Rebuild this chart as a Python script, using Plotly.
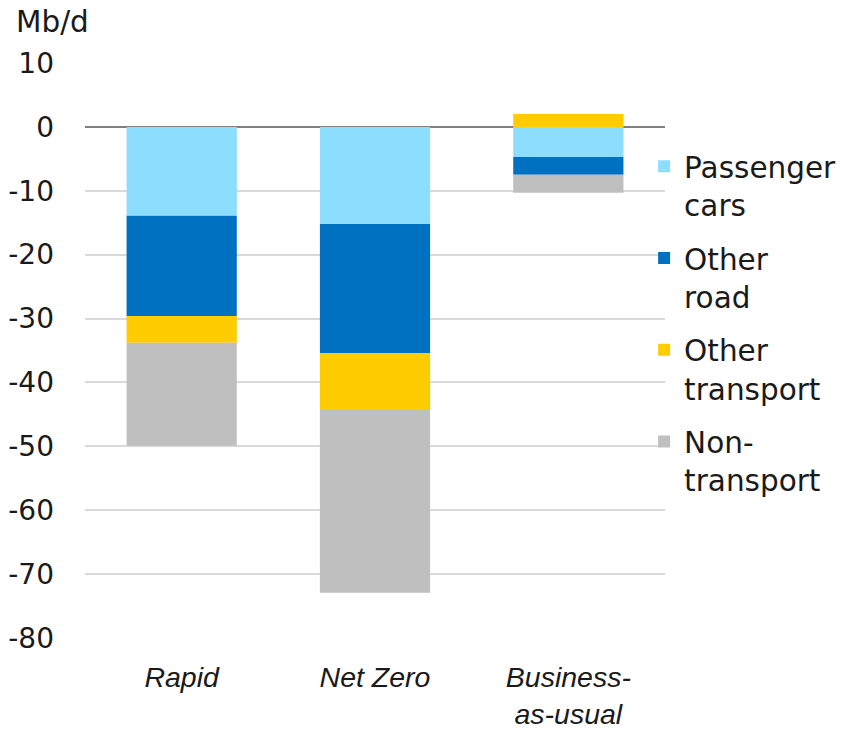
import plotly.graph_objects as go

categories = ["Rapid", "Net Zero", "Business-<br>as-usual"]
series_names = ["Passenger<br>cars", "Other<br>road", "Other<br>transport", "Non-<br>transport"]
passenger_cars = [-13.9, -15.2, -4.7]
other_road = [-15.7, -20.2, -2.8]
other_transport = [-4.2, -8.9, 2.0]
non_transport = [-16.1, -28.6, -2.8]
y_ticks = [10, 0, -10, -20, -30, -40, -50, -60, -70, -80]

colors = ["#8CDDFE", "#0070C0", "#FFCC00", "#BFBFBF"]
values = [passenger_cars, other_road, other_transport, non_transport]

font_main = "DejaVu Sans, sans-serif"
font_x = "Liberation Sans, Arial, sans-serif"
fig = go.Figure()
for i, (name, vals) in enumerate(zip(series_names, values)):
    fig.add_trace(go.Bar(
        x=categories, y=vals, name=name, legendgroup=str(i),
        marker=dict(color=colors[i], line=dict(width=0)),
    ))

fig.update_layout(
    barmode="relative",
    bargap=0.43,
    width=844, height=730,
    margin=dict(l=85, r=179, t=63, b=92, pad=0, autoexpand=False),
    plot_bgcolor="white", paper_bgcolor="white",
    font=dict(family=font_main, size=28, color="#1a1a1a"),
    showlegend=True,
    legend=dict(
        x=0.964, xanchor="left", y=0.865, yanchor="top",
        traceorder="grouped", tracegroupgap=12, valign="top",
        font=dict(size=29.5, color="#1a1a1a", family=font_main),
        bgcolor="rgba(0,0,0,0)", borderwidth=0,
    ),
    xaxis=dict(
        showgrid=False, showline=False, ticks="", automargin=False,
        tickfont=dict(size=28.5, family=font_x, color="#1a1a1a"),
        tickmode="array", tickvals=categories,
        ticktext=["<i>" + c.replace("<br>", "</i><br><i>") + "</i>" for c in categories],
        ticklabelstandoff=19,
    ),
    yaxis=dict(
        range=[-80, 10], tickmode="array", tickvals=y_ticks,
        ticktext=[str(v) for v in y_ticks], automargin=False,
        showgrid=True, gridcolor="#D9D9D9", gridwidth=1.5,
        zeroline=True, zerolinecolor="#808080", zerolinewidth=2,
        ticks="", ticklabelstandoff=30, tickfont=dict(size=28, family=font_main),
    ),
    annotations=[dict(
        text="Mb/d", xref="paper", yref="paper", x=-0.122, y=1.0713,
        xanchor="left", yanchor="middle", showarrow=False,
        font=dict(size=29.5, color="#1a1a1a", family=font_main),
    )],
)

fig.write_html("out.html", config={"displayModeBar": False},
               post_script="document.body.style.margin='0';")
